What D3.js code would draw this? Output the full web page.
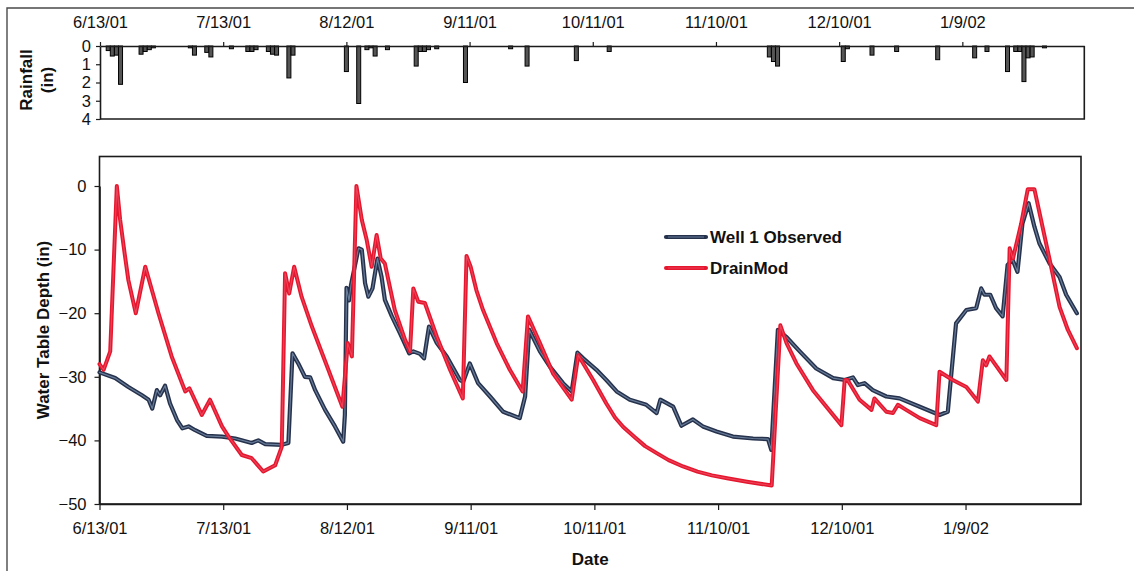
<!DOCTYPE html>
<html>
<head>
<meta charset="utf-8">
<script src="https://cdn.jsdelivr.net/npm/d3@7"></script>
<style>
  html, body { margin: 0; padding: 0; background: #fff; }
  svg { display: block; font-family: "Liberation Sans", Arial, sans-serif; }
</style>
</head>
<body>
<svg id="chart" width="1134" height="571"></svg>
<script>
// ---- data ---------------------------------------------------------------
const startDate = "6/13/01";
const tickDates = ["6/13/01", "7/13/01", "8/12/01", "9/11/01", "10/11/01", "11/10/01", "12/10/01", "1/9/02"];
const depthTicks = [0, -10, -20, -30, -40, -50];
const rainTicks = [0, 1, 2, 3, 4];

// daily rainfall (days after 6/13/01, inches)
const rainDays   = [2, 3, 4, 5, 10, 11, 12, 13, 22, 23, 26, 27, 32, 36, 37, 38, 41, 42, 43, 46, 47,
                    60, 63, 65, 66, 67, 70, 77, 78, 79, 80, 82, 89, 100, 104, 116, 124,
                    163, 164, 165, 181, 182, 188, 194, 204, 213, 216, 221, 223, 224, 225, 226, 227, 230];
const rainInches = [0.25, 0.55, 0.5, 2.1, 0.45, 0.3, 0.2, 0.1, 0.1, 0.5, 0.35, 0.6, 0.15, 0.3, 0.3, 0.2, 0.3, 0.45, 0.5, 1.75, 0.5,
                    1.4, 3.15, 0.2, 0.1, 0.55, 0.2, 1.1, 0.3, 0.3, 0.2, 0.15, 2.0, 0.15, 1.1, 0.8, 0.3,
                    0.6, 0.85, 1.1, 0.85, 0.15, 0.5, 0.3, 0.75, 0.65, 0.3, 1.4, 0.3, 0.3, 1.95, 0.65, 0.6, 0.1];

// Well 1 observed water table depth (days after 6/13/01, inches)
const observedDays  = [0, 3.8, 7, 10.3, 11.9, 12.8, 13.9, 14.7, 15.9, 17.1, 18.8, 20.1, 21.6, 23.2, 26, 29.7, 32.9, 36.9, 38.5, 40.2,
                       44.2, 45.8, 46.8, 48.2, 49.8, 51.1, 52.3, 54.7, 57.1, 59.1, 59.5, 59.9, 60.5, 61, 62.8, 63.6, 64.4, 65.2, 66.2, 67.4,
                       68.4, 69.2, 70.9, 72.9, 75.1, 76.1, 77.7, 78.7, 79.9, 81.8, 84.2, 87.4, 88.2, 89.8, 91.8, 94.7, 97.9, 101.9, 103.2, 104.2,
                       106.8, 109.2, 112.4, 114.5, 115.9, 117.3, 120.5, 122.9, 125.4, 128.6, 132.6, 135.1, 136, 139.1, 141.1, 143.9, 146.3, 149.6, 153.6, 158.5,
                       162.1, 162.9, 164.5, 166.5, 169.8, 173.8, 177.9, 180.7, 182.7, 183.9, 185.5, 187.5, 190.8, 194, 198.9, 203.7, 205.7, 207.7, 210.2, 212.6,
                       213.8, 214.6, 216, 217.4, 219, 220.2, 221.4, 222.6, 223.8, 225.3, 226.7, 227.9, 230.4, 232.8, 234.4, 237];
const observedDepth = [-29.3, -30.2, -31.6, -32.9, -33.6, -35, -32.1, -32.9, -31.4, -34.2, -36.8, -38.1, -37.8, -38.4, -39.3, -39.4, -39.7, -40.4, -40, -40.6,
                       -40.7, -40.4, -26.3, -27.9, -30, -30.1, -32.1, -35.2, -37.8, -40.2, -36, -16, -18, -15.5, -9.8, -10, -15.3, -17.4, -16.1, -11.4,
                       -14.3, -17.9, -20.5, -23.2, -26.3, -26, -26.4, -27.1, -22.1, -24.7, -26.8, -30.5, -30.8, -27.9, -31, -33.1, -35.5, -36.5, -33.1, -22.6,
                       -26, -28.4, -31, -32.3, -26.2, -27.1, -28.9, -30.5, -32.3, -33.6, -34.4, -35.7, -33.6, -34.7, -37.7, -36.7, -37.8, -38.6, -39.4, -39.7,
                       -39.8, -41.5, -22.6, -23.7, -26, -28.7, -30.2, -30.5, -30.1, -31.3, -31, -32.1, -33.1, -33.4, -34.7, -36, -35.5, -21.6, -19.5, -19.2,
                       -16.1, -17.1, -17.1, -19.2, -20.5, -12.4, -11.6, -13.5, -5.9, -2.7, -6.4, -9, -12.2, -14.3, -17.1, -20];

// DrainMod simulated water table depth (days after 6/13/01, inches)
const drainModDays  = [0, 1, 2.6, 4.2, 5, 6.2, 7, 8.8, 11.1, 14.3, 17.5, 20.8, 21.8, 24.8, 26.8, 29.7, 31.3, 34.5, 36.9, 39.7, 42.6,
                       44.2, 45, 46, 47.2, 49, 51.5, 55.5, 58.9, 60.2, 61.2, 62.3, 63.6, 64.8, 66, 67.2, 68.2, 69.2, 71.6, 74.1, 75.3, 76.1,
                       77.3, 78.9, 81.8, 85, 88.1, 89, 90, 91.4, 93, 96.3, 99.5, 102.6, 103.9, 106.8, 110, 114.5, 116.1, 119.7, 122.9, 125, 127, 129.8,
                       132.3, 135.1, 138, 141.5, 145, 148.5, 152.5, 157, 163, 165.1, 166.6, 169, 173, 179.9, 180.7, 181.4, 184.3, 187.2, 187.9, 190.8,
                       192.4, 193.6, 195.6, 198.9, 202.9, 203.7, 206.9, 210.2, 213, 214.2, 215, 215.8, 219.9, 220.7, 221.5, 223.5, 225.1, 226.7,
                       230.4, 232.8, 234.8, 237];
const drainModDepth = [-28, -28.9, -26, 0, -5.3, -11.1, -14.8, -20, -12.7, -20, -26.8, -32.3, -31.8, -36, -33.6, -37.8, -39.4, -42.3, -42.8, -44.9, -43.9,
                       -41, -13.7, -16.9, -12.7, -17.4, -22.1, -28.9, -34.7, -24.7, -26.8, 0, -5.3, -8.5, -12.7, -7.7, -11.4, -12.2, -19.5, -24.2, -26, -16.1,
                       -18.2, -18.4, -23.7, -28.9, -33.4, -11, -12.7, -16.4, -19.5, -24.7, -28.9, -32.3, -20.5, -24.7, -29.5, -33.6, -26.6, -30.5, -34.2, -36.4, -37.9, -39.5,
                       -40.9, -42, -43.1, -44.1, -44.9, -45.5, -46, -46.5, -47.1, -21.9, -24.7, -27.9, -32.1, -37.6, -30.5, -30.5, -33.6, -35.2, -33.4, -35.5,
                       -35.7, -34.4, -35.2, -36.5, -37.6, -29.2, -30.5, -31.6, -33.9, -27.4, -28.2, -26.8, -30.5, -9.8, -11.4, -5.9, -0.5, -0.5,
                       -11.6, -19, -22.6, -25.5];

// ---- helpers ------------------------------------------------------------
const parseDate = d3.timeParse("%m/%d/%y");
const t0 = parseDate(startDate);
const DAY = 864e5;
const dayToDate = d => new Date(t0.getTime() + d * DAY);
const toPoints = (days, vals) => days.map((d, i) => ({ date: dayToDate(d), value: vals[i] }));

const svg = d3.select("#chart");
const ink = "#1b1b1b";
const tickFont = g => g.selectAll("text").attr("fill", "#111")
  .style("font-size", "16.5px").style("font-family", "Liberation Sans, Arial, sans-serif");
const axisInk = g => {
  g.select(".domain").attr("stroke", ink).attr("stroke-width", 1.6);
  g.selectAll(".tick line").attr("stroke", ink).attr("stroke-width", 1.2);
};

// outer frame of the figure
svg.append("path")
  .attr("d", "M7,571 V8 H1134")
  .attr("fill", "none").attr("stroke", "#4a4a4a").attr("stroke-width", 1.4);

// ---- rainfall panel -----------------------------------------------------
const rain = { left: 100, right: 1084.3, top: 46, bottom: 119 };
const xRain = d3.scaleTime()
  .domain([t0, dayToDate(239.7)])
  .range([rain.left, rain.right]);
const yRain = d3.scaleLinear().domain([0, 4]).range([rain.top, rain.bottom]);

const gRain = svg.append("g");
gRain.selectAll("rect.bar")
  .data(rainDays.map((d, i) => ({ date: dayToDate(d), value: rainInches[i] })))
  .join("rect")
  .attr("class", "bar")
  .attr("x", d => xRain(d.date) - 2)
  .attr("width", 4)
  .attr("y", yRain(0))
  .attr("height", d => yRain(d.value) - yRain(0))
  .attr("fill", "#555")
  .attr("stroke", "#000")
  .attr("stroke-width", 1);

// frame: right and bottom edges
gRain.append("path")
  .attr("d", `M${rain.left},${rain.bottom} H${rain.right} V${rain.top}`)
  .attr("fill", "none").attr("stroke", ink).attr("stroke-width", 1.6);

gRain.append("g")
  .attr("transform", `translate(0,${rain.top})`)
  .call(d3.axisTop(xRain)
    .tickValues(tickDates.map(parseDate))
    .tickFormat((d, i) => tickDates[i])
    .tickSize(4).tickSizeOuter(0).tickPadding(14))
  .call(axisInk).call(tickFont);

gRain.append("g")
  .attr("transform", `translate(${rain.left},0)`)
  .call(d3.axisLeft(yRain)
    .tickValues(rainTicks)
    .tickFormat(d3.format("d"))
    .tickSize(4).tickSizeOuter(0).tickPadding(5))
  .call(axisInk).call(tickFont);

const rainTitle = gRain.append("text")
  .attr("transform", "translate(38,80) rotate(-90)")
  .attr("text-anchor", "middle")
  .style("font-size", "17px").style("font-weight", "bold").attr("fill", "#111");
rainTitle.append("tspan").attr("x", 0).attr("dy", "-0.35em").text("Rainfall");
rainTitle.append("tspan").attr("x", 0).attr("dy", "1.25em").text("(in)");

// ---- water table panel --------------------------------------------------
const main = { left: 99.5, right: 1081, top: 156.5, bottom: 504 };
const x = d3.scaleTime()
  .domain([t0, dayToDate(238)])
  .range([main.left, main.right]);
const y = d3.scaleLinear()
  .domain([-50, 0])
  .range([main.bottom, 186]);

const gMain = svg.append("g");

gMain.append("rect")
  .attr("x", main.left).attr("y", main.top)
  .attr("width", main.right - main.left).attr("height", main.bottom - main.top)
  .attr("fill", "none").attr("stroke", ink).attr("stroke-width", 1.6);

gMain.append("g")
  .attr("transform", `translate(0,${main.bottom})`)
  .call(d3.axisBottom(x)
    .tickValues(tickDates.map(parseDate))
    .tickFormat((d, i) => tickDates[i])
    .tickSize(6).tickSizeOuter(0).tickPadding(12))
  .call(axisInk).call(tickFont);

gMain.append("g")
  .attr("transform", `translate(${main.left},0)`)
  .call(d3.axisLeft(y)
    .tickValues(depthTicks)
    .tickFormat(d3.format("d"))
    .tickSize(5).tickSizeOuter(0).tickPadding(8))
  .call(axisInk).call(tickFont);

gMain.append("text")
  .attr("transform", "translate(43,330) rotate(-90)")
  .attr("text-anchor", "middle").attr("dominant-baseline", "central")
  .style("font-size", "17px").style("font-weight", "bold").attr("fill", "#111")
  .text("Water Table Depth (in)");

gMain.append("text")
  .attr("x", (main.left + main.right) / 2).attr("y", 565)
  .attr("text-anchor", "middle")
  .style("font-size", "17px").style("font-weight", "bold").attr("fill", "#111")
  .text("Date");

// series styles: dark outer stroke with a lighter core
const series = [
  { name: "Well 1 Observed", points: toPoints(observedDays, observedDepth),
    outer: "#26324c", outerW: 4.2, inner: "#7085a3", innerW: 1.2, innerOp: 0.9 },
  { name: "DrainMod", points: toPoints(drainModDays, drainModDepth),
    outer: "#e5172e", outerW: 4, inner: "#f47a90", innerW: 1.1, innerOp: 0.45 }
];

const line = d3.line().x(d => x(d.date)).y(d => y(d.value));

const gLines = gMain.append("g");
series.forEach(s => {
  gLines.append("path").datum(s.points)
    .attr("d", line).attr("fill", "none")
    .attr("stroke", s.outer).attr("stroke-width", s.outerW)
    .attr("stroke-linejoin", "round").attr("stroke-linecap", "round");
  gLines.append("path").datum(s.points)
    .attr("d", line).attr("fill", "none")
    .attr("stroke", s.inner).attr("stroke-width", s.innerW).attr("stroke-opacity", s.innerOp)
    .attr("stroke-linejoin", "round").attr("stroke-linecap", "round");
});

// legend
const legend = gMain.append("g").attr("transform", "translate(665,237)");
series.forEach((s, i) => {
  const row = legend.append("g").attr("transform", `translate(0,${i * 31})`);
  row.append("line").attr("x1", 1).attr("x2", 41)
    .attr("stroke", s.outer).attr("stroke-width", s.outerW).attr("stroke-linecap", "round");
  row.append("line").attr("x1", 3).attr("x2", 39)
    .attr("stroke", s.inner).attr("stroke-width", s.innerW).attr("stroke-opacity", s.innerOp);
  row.append("text").attr("x", 45).attr("dy", "0.36em")
    .style("font-size", "17px").style("font-weight", "bold").attr("fill", "#111")
    .text(s.name);
});
</script>
</body>
</html>
